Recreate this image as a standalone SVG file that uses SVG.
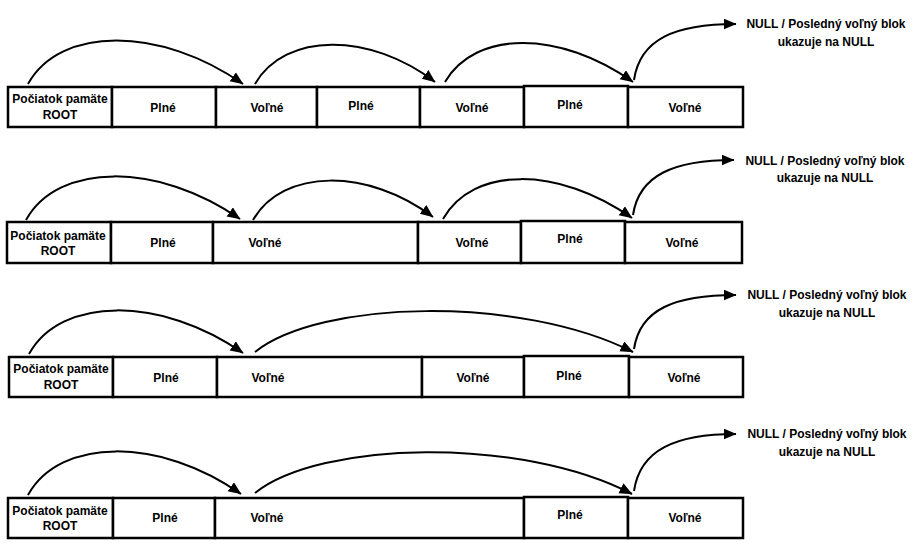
<svg xmlns="http://www.w3.org/2000/svg" width="914" height="551" viewBox="0 0 914 551">
<style>
.c{fill:#fff;stroke:#000;stroke-width:2.5}
.t{font-family:"Liberation Sans",Arial,Helvetica,sans-serif;font-weight:bold;font-size:12px;fill:#000;text-anchor:middle}
.e{fill:none;stroke:#000;stroke-width:2}
</style>
<defs>
<marker id="ah" markerUnits="userSpaceOnUse" markerWidth="14" markerHeight="12" refX="12.5" refY="5.5" orient="auto">
<path d="M0,0 L13,5.5 L0,11 z" fill="#000"/>
</marker>
</defs>
<rect width="914" height="551" fill="#fff"/>

<!-- Row 1 -->
<g id="r1-root"><rect class="c" x="8" y="87" width="104" height="40"/><text class="t" x="60" y="103">Počiatok pamäte</text><text class="t" x="60" y="119">ROOT</text></g>
<g id="r1-c2"><rect class="c" x="112" y="87" width="104" height="40"/><text class="t" x="163" y="112">Plné</text></g>
<g id="r1-c3"><rect class="c" x="216" y="87" width="101" height="40"/><text class="t" x="267" y="112">Voľné</text></g>
<g id="r1-c4"><rect class="c" x="317" y="87" width="103" height="40"/><text class="t" x="361" y="110">Plné</text></g>
<g id="r1-c5"><rect class="c" x="420" y="87" width="104" height="40"/><text class="t" x="472" y="112">Voľné</text></g>
<g id="r1-c6"><rect class="c" x="524" y="86" width="104" height="41"/><text class="t" x="570" y="109">Plné</text></g>
<g id="r1-c7"><rect class="c" x="628" y="87" width="115" height="40"/><text class="t" x="685" y="112">Voľné</text></g>
<g id="r1-null"><text class="t" x="826" y="28">NULL / Posledný voľný blok</text><text class="t" x="826" y="46">ukazuje na NULL</text></g>

<!-- Row 2 -->
<g id="r2-root"><rect class="c" x="7" y="222" width="104" height="41"/><text class="t" x="58" y="240">Počiatok pamäte</text><text class="t" x="58" y="255">ROOT</text></g>
<g id="r2-c2"><rect class="c" x="111" y="222" width="102" height="41"/><text class="t" x="163" y="247">Plné</text></g>
<g id="r2-c3"><rect class="c" x="213" y="222" width="205" height="41"/><text class="t" x="265" y="247">Voľné</text></g>
<g id="r2-c4"><rect class="c" x="418" y="222" width="103" height="41"/><text class="t" x="472" y="247">Voľné</text></g>
<g id="r2-c5"><rect class="c" x="521" y="221" width="104" height="42"/><text class="t" x="570" y="243">Plné</text></g>
<g id="r2-c6"><rect class="c" x="625" y="222" width="117" height="41"/><text class="t" x="682" y="247">Voľné</text></g>
<g id="r2-null"><text class="t" x="825" y="165">NULL / Posledný voľný blok</text><text class="t" x="825" y="182">ukazuje na NULL</text></g>

<!-- Row 3 -->
<g id="r3-root"><rect class="c" x="9" y="357" width="104" height="40"/><text class="t" x="61" y="373">Počiatok pamäte</text><text class="t" x="61" y="389">ROOT</text></g>
<g id="r3-c2"><rect class="c" x="113" y="357" width="104" height="40"/><text class="t" x="166" y="382">Plné</text></g>
<g id="r3-c3"><rect class="c" x="217" y="357" width="205" height="40"/><text class="t" x="268" y="382">Voľné</text></g>
<g id="r3-c4"><rect class="c" x="422" y="357" width="102" height="40"/><text class="t" x="473" y="382">Voľné</text></g>
<g id="r3-c5"><rect class="c" x="524" y="356" width="105" height="41"/><text class="t" x="569" y="380">Plné</text></g>
<g id="r3-c6"><rect class="c" x="629" y="357" width="114" height="40"/><text class="t" x="684" y="382">Voľné</text></g>
<g id="r3-null"><text class="t" x="827" y="299">NULL / Posledný voľný blok</text><text class="t" x="827" y="317">ukazuje na NULL</text></g>

<!-- Row 4 -->
<g id="r4-root"><rect class="c" x="8" y="498" width="105" height="40"/><text class="t" x="60" y="515">Počiatok pamäte</text><text class="t" x="60" y="530">ROOT</text></g>
<g id="r4-c2"><rect class="c" x="113" y="498" width="102" height="40"/><text class="t" x="165" y="522">Plné</text></g>
<g id="r4-c3"><rect class="c" x="215" y="498" width="309" height="40"/><text class="t" x="267" y="522">Voľné</text></g>
<g id="r4-c4"><rect class="c" x="524" y="497" width="104" height="41"/><text class="t" x="570" y="519">Plné</text></g>
<g id="r4-c5"><rect class="c" x="628" y="498" width="115" height="40"/><text class="t" x="685" y="522">Voľné</text></g>
<g id="r4-null"><text class="t" x="827" y="438">NULL / Posledný voľný blok</text><text class="t" x="827" y="456">ukazuje na NULL</text></g>

<g id="connectors">
<path class="e" marker-end="url(#ah)" d="M28,84 C60,26 160,26 243,84"/>
<path class="e" marker-end="url(#ah)" d="M255,84 C285,32 370,32 435,82"/>
<path class="e" marker-end="url(#ah)" d="M445,82 C475,30 560,30 633,82"/>
<path class="e" marker-end="url(#ah)" d="M634,80 C640,39 675,24 736,24"/>

<path class="e" marker-end="url(#ah)" d="M26,220 C58,162 158,162 240,219"/>
<path class="e" marker-end="url(#ah)" d="M253,220 C283,168 368,168 433,217"/>
<path class="e" marker-end="url(#ah)" d="M443,219 C473,166 558,166 632,218"/>
<path class="e" marker-end="url(#ah)" d="M633,215 C639,175 674,160 734,160"/>

<path class="e" marker-end="url(#ah)" d="M29,354 C61,296 161,296 243,353"/>
<path class="e" marker-end="url(#ah)" d="M255,352 C320,300 520,295 633,352"/>
<path class="e" marker-end="url(#ah)" d="M634,349 C640,309 675,295 736,295"/>

<path class="e" marker-end="url(#ah)" d="M28,495 C60,437 160,437 241,494"/>
<path class="e" marker-end="url(#ah)" d="M255,493 C320,441 520,436 632,494"/>
<path class="e" marker-end="url(#ah)" d="M634,491 C640,450 675,434 736,434"/>
</g>
</svg>
